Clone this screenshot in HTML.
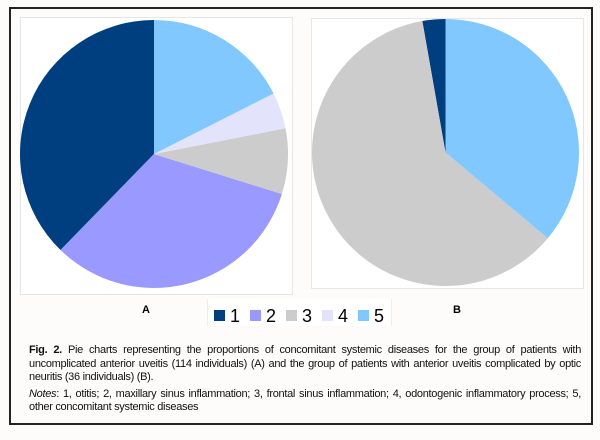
<!DOCTYPE html>
<html><head><meta charset="utf-8"><style>
body{margin:0;width:600px;height:440px;background:#fdfcfa;font-family:"Liberation Sans",sans-serif;position:relative;overflow:hidden}
#frame{position:absolute;left:9px;top:7px;width:580px;height:414px;border:2px solid #222;background:#fdfcfa}
.panel{position:absolute;background:#fff;border:1px solid #e6e6e6}
.lbl{position:absolute;font-weight:bold;font-size:11px}
#legend{position:absolute;left:207px;top:299px;width:183px;height:27px;background:#fff;border-left:1px solid #eee;border-right:1px solid #eee}
.li{position:absolute;top:8px;font-size:18px;line-height:18px}
.li span{display:inline-block;width:11px;height:11px;margin-right:5px;vertical-align:1px}
#cap{position:absolute;left:29px;top:344px;width:552px;font-size:11px;letter-spacing:-0.3px;line-height:13.5px;text-align:justify;color:#111}
#cap p{margin:0 0 3px 0}
</style></head><body>
<div id="frame"></div>
<div class="panel" style="left:20px;top:17px;width:271px;height:276px"></div>
<div class="panel" style="left:311px;top:18px;width:271px;height:269px"></div>
<svg id="svg" width="600" height="440" style="position:absolute;left:0;top:0"></svg>
<div class="lbl" style="left:142px;top:304px">A</div>
<div class="lbl" style="left:453px;top:304px">B</div>
<div id="legend"></div>
<div id="cap">
<p><b>Fig. 2.</b> Pie charts representing the proportions of concomitant systemic diseases for the group of patients with uncomplicated anterior uveitis (114 individuals) (A) and the group of patients with anterior uveitis complicated by optic neuritis (36 individuals) (B).</p>
<p><i>Notes</i>: 1, otitis; 2, maxillary sinus inflammation; 3, frontal sinus inflammation; 4, odontogenic inflammatory process; 5, other concomitant systemic diseases</p>
</div>
<script>
const categories=["1","2","3","4","5"];
const valuesA=[43,37,9,5,20];
const valuesB=[1,0,22,0,13];
const colors=["#003f7f","#9999ff","#cccccc","#e3e3fb","#80c8ff"];
const svg=document.getElementById('svg');
const NS="http://www.w3.org/2000/svg";
function drawPie(vals,cx,cy,r,name){
  const tot=vals.reduce((a,b)=>a+b,0);
  let a=0;
  vals.forEach((v,i)=>{
    if(v<=0)return;
    const a0=a, a1=a+v/tot*2*Math.PI; a=a1;
    const x0=cx-r*Math.sin(a0), y0=cy-r*Math.cos(a0);
    const x1=cx-r*Math.sin(a1), y1=cy-r*Math.cos(a1);
    const large=(a1-a0)>Math.PI?1:0;
    const p=document.createElementNS(NS,'path');
    let d;
    if(v===tot) d=`M${cx-r},${cy}A${r},${r} 0 1 0 ${cx+r},${cy}A${r},${r} 0 1 0 ${cx-r},${cy}Z`;
    else d=`M${cx},${cy}L${x0},${y0}A${r},${r} 0 ${large} 0 ${x1},${y1}Z`;
    p.setAttribute('d',d);
    p.setAttribute('fill',colors[i]);
    
    
    svg.appendChild(p);
  });
}
drawPie(valuesA,154,154,134,'pie-a');
drawPie(valuesB,445.5,152.5,133.5,'pie-b');
const leg=document.getElementById('legend');
categories.forEach((c,i)=>{
  const d=document.createElement('div');
  d.className='li';
  d.style.left=(6+i*36)+'px';
  d.innerHTML='<span style="background:'+colors[i]+'"></span>'+c;
  
  
  leg.appendChild(d);
});
</script>
</body></html>
